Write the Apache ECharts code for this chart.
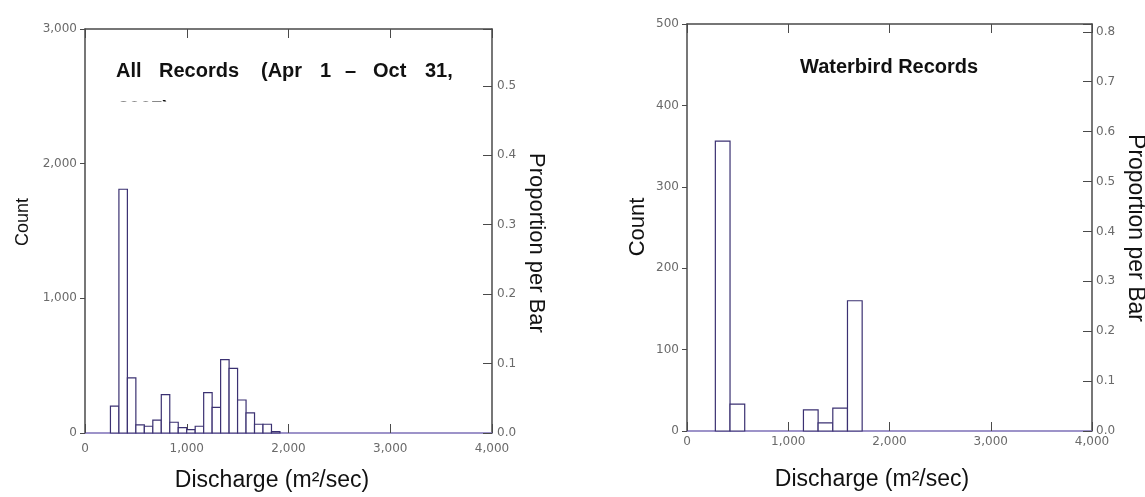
<!DOCTYPE html>
<html>
<head>
<meta charset="utf-8">
<script src="https://cdn.jsdelivr.net/npm/echarts@6/dist/echarts.min.js"></script>
<style>
html, body { margin: 0; padding: 0; background: #fff; }
#chart { width: 1145px; height: 497px; }
</style>
</head>
<body>
<div id="chart"></div>
<script>
// All records (Apr 1 - Oct 31): equal-width bins from allFirstBin
var allFirstBin = 250;
var allBinWidth = 83.3;
var allCounts = [200, 1810, 410, 60, 50, 95, 285, 80, 40, 25, 50, 300, 190, 545, 480, 245, 150, 65, 65, 10];

// Waterbird records
var wbBinStarts = [280, 425, 1150, 1295, 1440, 1585];
var wbBinWidth = 145;
var wbCounts = [356, 33, 26, 10, 28, 160];

var allCountMax = 3000;
var wbCountMax = 500;

var allBins = allCounts.map(function (c, i) {
    var lo = allFirstBin + i * allBinWidth;
    return [lo, lo + allBinWidth, c];
});
var wbBins = wbCounts.map(function (c, i) {
    return [wbBinStarts[i], wbBinStarts[i] + wbBinWidth, c];
});

var allTotal = allCounts.reduce(function (a, b) { return a + b; }, 0);
var wbTotal = wbCounts.reduce(function (a, b) { return a + b; }, 0);

var FONT = 'Liberation Sans, Arial, sans-serif';
var TICKFONT = 'DejaVu Sans, sans-serif';
var AXIS = '#4a4a4a';
var BASE = '#7d70b8';
var LABEL = '#6a6a6a';

function comma(v) { return Math.round(v).toLocaleString('en-US'); }
function prop(v) {
    return Math.abs(v * 10 - Math.round(v * 10)) < 1e-6 ? v.toFixed(1) : '';
}

function renderBin(params, api) {
    var lo = api.coord([api.value(0), 0]);
    var hi = api.coord([api.value(1), api.value(2)]);
    return {
        type: 'rect',
        shape: { x: lo[0], y: hi[1], width: hi[0] - lo[0], height: lo[1] - hi[1] },
        style: { fill: '#fff', stroke: '#3b3172', lineWidth: 1.2 }
    };
}

function bottomAxis(grid, margin) {
    return {
        type: 'value', gridIndex: grid, position: 'bottom',
        min: 0, max: 4000, interval: 1000,
        axisLine: { onZero: false, lineStyle: { color: BASE, width: 1.5 } },
        axisTick: { inside: true, length: 9, lineStyle: { color: AXIS } },
        axisLabel: { color: LABEL, fontSize: 12, fontFamily: TICKFONT, margin: margin, formatter: comma },
        splitLine: { show: false }
    };
}
function topAxis(grid) {
    return {
        type: 'value', gridIndex: grid, position: 'top',
        min: 0, max: 4000, interval: 1000,
        axisLine: { onZero: false, lineStyle: { color: AXIS, width: 1.5 } },
        axisTick: { inside: true, length: 9, lineStyle: { color: AXIS } },
        axisLabel: { show: false },
        splitLine: { show: false }
    };
}
function countAxis(grid, max, interval) {
    return {
        type: 'value', gridIndex: grid, position: 'left',
        min: 0, max: max, interval: interval,
        axisLine: { show: true, onZero: false, lineStyle: { color: AXIS, width: 1.5 } },
        axisTick: { show: true, length: 5, lineStyle: { color: AXIS } },
        axisLabel: { color: LABEL, fontSize: 12, fontFamily: TICKFONT, margin: 8, formatter: comma },
        splitLine: { show: false }
    };
}
function propAxis(grid, max, margin) {
    return {
        type: 'value', gridIndex: grid, position: 'right',
        min: 0, max: max, interval: 0.1,
        axisLine: { show: true, onZero: false, lineStyle: { color: AXIS, width: 1.5 } },
        axisTick: { show: true, inside: true, length: 9, lineStyle: { color: AXIS } },
        axisLabel: { color: LABEL, fontSize: 12, fontFamily: TICKFONT, margin: margin, formatter: prop },
        splitLine: { show: false }
    };
}

function label(text, x, y, size, rot, weight, align) {
    return {
        type: 'text', x: x, y: y, rotation: rot || 0, z: 10,
        style: {
            text: text, fill: '#111', fontSize: size, fontFamily: FONT,
            fontWeight: weight || 'normal', align: align || 'center', verticalAlign: 'middle'
        }
    };
}

// left title is justified in the source, so words sit apart
var titleWords = ['All', 'Records', '(Apr', '1', '\u2013', 'Oct', '31,'];
var titleX = [116, 159, 261, 320, 345, 373, 425];

var graphics = titleWords.map(function (w, i) {
    return label(w, titleX[i], 71, 20, 0, 'bold', 'left');
});
graphics.push(label('2007)', 118, 109.5, 20, 0, 'bold', 'left'));
// second title line is cut off in the source
graphics.push({ type: 'rect', z: 11, shape: { x: 110, y: 101.5, width: 80, height: 26 }, style: { fill: '#fff' } });
graphics.push(
    label('Waterbird Records', 800, 67, 20, 0, 'bold', 'left'),
    label('Count', 23, 222, 18, Math.PI / 2),
    label('Count', 638, 227, 22, Math.PI / 2),
    label('Proportion per Bar', 536, 243, 22, -Math.PI / 2),
    label('Proportion per Bar', 1135, 228, 23, -Math.PI / 2),
    label('Discharge (m\u00b2/sec)', 272, 481, 23),
    label('Discharge (m\u00b2/sec)', 872, 480, 23)
);

var myChart = echarts.init(document.getElementById('chart'));
var option = {
    animation: false,
    backgroundColor: '#fff',
    grid: [
        { left: 85, top: 29, width: 407, height: 404 },
        { left: 687, top: 24, width: 405, height: 407 }
    ],
    xAxis: [bottomAxis(0, 10), topAxis(0), bottomAxis(1, 5), topAxis(1)],
    yAxis: [
        countAxis(0, allCountMax, 1000),
        propAxis(0, allCountMax / allTotal, 5),
        countAxis(1, wbCountMax, 100),
        propAxis(1, wbCountMax / wbTotal, 4)
    ],
    graphic: graphics,
    series: [
        {
            type: 'custom', xAxisIndex: 0, yAxisIndex: 0,
            renderItem: renderBin, encode: { x: [0, 1], y: 2 }, data: allBins
        },
        {
            type: 'custom', xAxisIndex: 2, yAxisIndex: 2,
            renderItem: renderBin, encode: { x: [0, 1], y: 2 }, data: wbBins
        }
    ]
};
myChart.setOption(option);
</script>
</body>
</html>
